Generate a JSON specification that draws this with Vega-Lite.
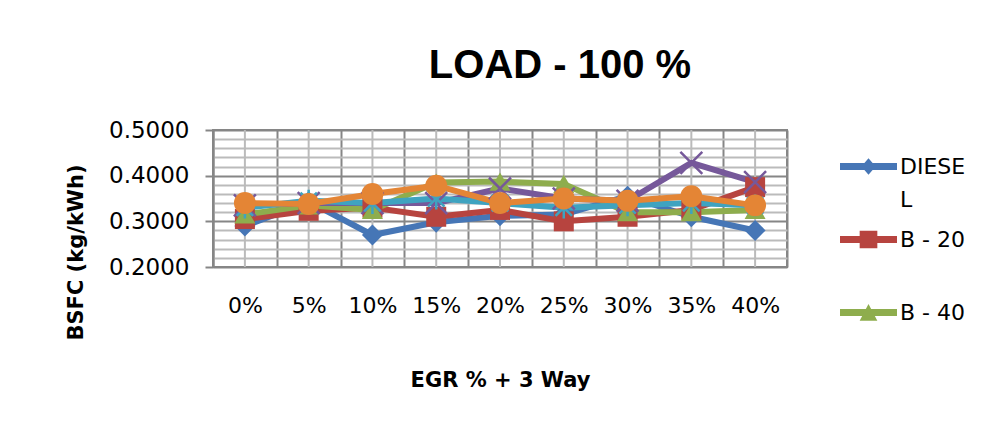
{
  "$schema": "https://vega.github.io/schema/vega-lite/v6.json",
  "width": 574,
  "height": 137,
  "autosize": {"type": "none"},
  "padding": {"left": 213, "top": 130, "right": 211, "bottom": 157},
  "background": "white",
  "config": {"view": {"stroke": "#868686", "strokeWidth": 2}},
  "title": {"text": "LOAD - 100 %", "font": "Liberation Sans", "fontSize": 40, "fontWeight": "bold", "color": "black", "anchor": "middle", "dx": 60, "offset": 33},
  "data": {"values": [
    {"egr": "0%", "series": "DIESEL", "bsfc": 0.290},
    {"egr": "5%", "series": "DIESEL", "bsfc": 0.343},
    {"egr": "10%", "series": "DIESEL", "bsfc": 0.270},
    {"egr": "15%", "series": "DIESEL", "bsfc": 0.298},
    {"egr": "20%", "series": "DIESEL", "bsfc": 0.312},
    {"egr": "25%", "series": "DIESEL", "bsfc": 0.315},
    {"egr": "30%", "series": "DIESEL", "bsfc": 0.355},
    {"egr": "35%", "series": "DIESEL", "bsfc": 0.310},
    {"egr": "40%", "series": "DIESEL", "bsfc": 0.280},
    {"egr": "0%", "series": "B - 20", "bsfc": 0.305},
    {"egr": "5%", "series": "B - 20", "bsfc": 0.323},
    {"egr": "10%", "series": "B - 20", "bsfc": 0.330},
    {"egr": "15%", "series": "B - 20", "bsfc": 0.310},
    {"egr": "20%", "series": "B - 20", "bsfc": 0.325},
    {"egr": "25%", "series": "B - 20", "bsfc": 0.300},
    {"egr": "30%", "series": "B - 20", "bsfc": 0.310},
    {"egr": "35%", "series": "B - 20", "bsfc": 0.325},
    {"egr": "40%", "series": "B - 20", "bsfc": 0.375},
    {"egr": "0%", "series": "B - 40", "bsfc": 0.315},
    {"egr": "5%", "series": "B - 40", "bsfc": 0.335},
    {"egr": "10%", "series": "B - 40", "bsfc": 0.325},
    {"egr": "15%", "series": "B - 40", "bsfc": 0.385},
    {"egr": "20%", "series": "B - 40", "bsfc": 0.387},
    {"egr": "25%", "series": "B - 40", "bsfc": 0.382},
    {"egr": "30%", "series": "B - 40", "bsfc": 0.320},
    {"egr": "35%", "series": "B - 40", "bsfc": 0.320},
    {"egr": "40%", "series": "B - 40", "bsfc": 0.325},
    {"egr": "0%", "series": "B - 60", "bsfc": 0.335},
    {"egr": "5%", "series": "B - 60", "bsfc": 0.340},
    {"egr": "10%", "series": "B - 60", "bsfc": 0.340},
    {"egr": "15%", "series": "B - 60", "bsfc": 0.340},
    {"egr": "20%", "series": "B - 60", "bsfc": 0.372},
    {"egr": "25%", "series": "B - 60", "bsfc": 0.350},
    {"egr": "30%", "series": "B - 60", "bsfc": 0.345},
    {"egr": "35%", "series": "B - 60", "bsfc": 0.428},
    {"egr": "40%", "series": "B - 60", "bsfc": 0.386},
    {"egr": "0%", "series": "B - 80", "bsfc": 0.330},
    {"egr": "5%", "series": "B - 80", "bsfc": 0.345},
    {"egr": "10%", "series": "B - 80", "bsfc": 0.340},
    {"egr": "15%", "series": "B - 80", "bsfc": 0.350},
    {"egr": "20%", "series": "B - 80", "bsfc": 0.340},
    {"egr": "25%", "series": "B - 80", "bsfc": 0.330},
    {"egr": "30%", "series": "B - 80", "bsfc": 0.335},
    {"egr": "35%", "series": "B - 80", "bsfc": 0.340},
    {"egr": "40%", "series": "B - 80", "bsfc": 0.335},
    {"egr": "0%", "series": "B - 100", "bsfc": 0.340},
    {"egr": "5%", "series": "B - 100", "bsfc": 0.338},
    {"egr": "10%", "series": "B - 100", "bsfc": 0.360},
    {"egr": "15%", "series": "B - 100", "bsfc": 0.378},
    {"egr": "20%", "series": "B - 100", "bsfc": 0.340},
    {"egr": "25%", "series": "B - 100", "bsfc": 0.350},
    {"egr": "30%", "series": "B - 100", "bsfc": 0.345},
    {"egr": "35%", "series": "B - 100", "bsfc": 0.355},
    {"egr": "40%", "series": "B - 100", "bsfc": 0.335}
  ]},
  "resolve": {"axis": {"y": "independent"}},
  "layer": [
    {
      "transform": [{"filter": "datum.series === 'DIESEL'"}],
      "mark": {"type": "rule", "color": "#BBBBBB", "strokeWidth": 2},
      "encoding": {
        "x": {
          "field": "egr", "type": "ordinal",
          "sort": ["0%", "5%", "10%", "15%", "20%", "25%", "30%", "35%", "40%"],
          "scale": {"paddingInner": 0, "paddingOuter": 0},
          "axis": {
            "tickBand": "extent", "grid": true, "gridColor": "#868686", "gridWidth": 2,
            "ticks": false, "domain": false, "labelAngle": 0,
            "labelFont": "DejaVu Sans", "labelFontSize": 22, "labelColor": "black", "labelPadding": 28,
            "title": "EGR % + 3 Way", "titleFont": "DejaVu Sans", "titleFontSize": 21, "titleFontWeight": "bold",
            "titleColor": "black", "titlePadding": 53
          }
        },
        "y": {
          "datum": 0.2, "type": "quantitative",
          "axis": {
            "orient": "right", "title": null, "labels": false, "ticks": false, "domain": false,
            "grid": true, "gridColor": "#BBBBBB", "gridWidth": 2, "gridOpacity": 1, "tickCount": 40,
            "values": [0.22, 0.24, 0.26, 0.28, 0.32, 0.34, 0.36, 0.38, 0.42, 0.44, 0.46, 0.48]
          }
        },
        "y2": {"datum": 0.5}
      }
    },
    {
      "encoding": {
        "x": {"field": "egr", "type": "ordinal", "sort": ["0%", "5%", "10%", "15%", "20%", "25%", "30%", "35%", "40%"]},
        "y": {
          "field": "bsfc", "type": "quantitative",
          "scale": {"domain": [0.2, 0.5], "zero": false, "nice": false},
          "axis": {
            "orient": "left",
            "values": [0.2, 0.3, 0.4, 0.5],
            "grid": true, "gridWidth": 2, "gridColor": "#868686",
            "tickColor": "#868686", "tickSize": 8, "tickWidth": 2,
            "domain": true, "domainColor": "#868686", "domainWidth": 2,
            "format": ".4f",
            "labelFont": "DejaVu Sans", "labelFontSize": 23, "labelColor": "black", "labelPadding": 16,
            "title": "BSFC (kg/kWh)", "titleFont": "DejaVu Sans", "titleFontSize": 21, "titleFontWeight": "bold",
            "titleColor": "black", "titlePadding": 22, "titleY": 122
          }
        }
      },
      "layer": [
        {
          "mark": {"type": "line", "strokeWidth": 6, "strokeJoin": "round", "strokeCap": "round"},
          "encoding": {
            "stroke": {
              "field": "series", "type": "nominal",
              "scale": {
                "domain": ["DIESEL", "B - 20", "B - 40", "B - 60", "B - 80", "B - 100"],
                "range": ["#4676B6", "#B7443F", "#8EAD4D", "#76589A", "#3FA3C0", "#E48535"]
              },
              "legend": {
                "orient": "none", "legendX": 627, "legendY": 8,
                "values": ["DIESEL", "B - 20", "B - 40"],
                "title": null, "symbolSize": 3249, "rowPadding": -8,
                "labelFont": "DejaVu Sans", "labelFontSize": 22, "labelColor": "black", "labelOffset": 3,
                "labelExpr": "datum.label === 'DIESEL' ? ['DIESE', 'L'] : [datum.label, ' ']",
                "encode": {
                  "symbols": {"update": {
                    "shape": {"signal": "datum.value === 'DIESEL' ? 'M-1,-0.12H1V0.12H-1Z M0,-0.29L0.25,0L0,0.29L-0.25,0Z' : datum.value === 'B - 20' ? 'M-1,-0.12H1V0.12H-1Z M-0.31,-0.31H0.31V0.31H-0.31Z' : 'M-1,-0.12H1V0.12H-1Z M0,-0.3L0.31,0.29H-0.31Z'"},
                    "fill": {"signal": "scale('stroke', datum.value)"},
                    "stroke": {"value": "transparent"},
                    "strokeWidth": {"value": 0}
                  }},
                  "labels": {"update": {
                    "lineHeight": {"value": 33}
                  }}
                }
              }
            }
          }
        },
        {
          "transform": [{"filter": "datum.series === 'DIESEL'"}],
          "mark": {"type": "point", "shape": "diamond", "filled": true, "size": 440, "opacity": 1},
          "encoding": {"fill": {"field": "series", "type": "nominal", "legend": null, "scale": {"domain": ["DIESEL", "B - 20", "B - 40", "B - 60", "B - 80", "B - 100"], "range": ["#4676B6", "#B7443F", "#8EAD4D", "#76589A", "#3FA3C0", "#E48535"]}}}
        },
        {
          "transform": [{"filter": "datum.series === 'B - 20'"}],
          "mark": {"type": "point", "shape": "square", "filled": true, "size": 400, "opacity": 1},
          "encoding": {"fill": {"field": "series", "type": "nominal", "legend": null}}
        },
        {
          "transform": [{"filter": "datum.series === 'B - 40'"}],
          "mark": {"type": "point", "shape": "triangle-up", "filled": true, "size": 440, "opacity": 1},
          "encoding": {"fill": {"field": "series", "type": "nominal", "legend": null}}
        },
        {
          "transform": [{"filter": "datum.series === 'B - 60'"}],
          "mark": {"type": "point", "shape": "M-1,-1L1,1M1,-1L-1,1", "filled": false, "size": 480, "strokeWidth": 2.5, "opacity": 1},
          "encoding": {"stroke": {"field": "series", "type": "nominal", "legend": null}}
        },
        {
          "transform": [{"filter": "datum.series === 'B - 80'"}],
          "mark": {"type": "point", "shape": "M-0.75,-0.75L0.75,0.75M0.75,-0.75L-0.75,0.75M0,-1L0,1", "filled": false, "size": 480, "strokeWidth": 2.5, "opacity": 1},
          "encoding": {"stroke": {"field": "series", "type": "nominal", "legend": null}}
        },
        {
          "transform": [{"filter": "datum.series === 'B - 100'"}],
          "mark": {"type": "point", "shape": "circle", "filled": true, "size": 480, "opacity": 1},
          "encoding": {"fill": {"field": "series", "type": "nominal", "legend": null}}
        }
      ]
    }
  ]
}
